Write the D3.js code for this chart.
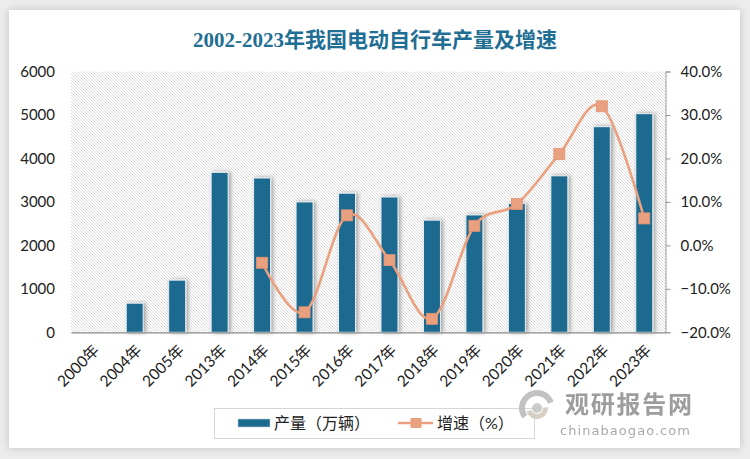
<!DOCTYPE html>
<html>
<head>
<meta charset="utf-8">
<script src="https://cdn.jsdelivr.net/npm/d3@7/dist/d3.min.js"></script>
<style>
html,body{margin:0;padding:0;background:#ececec;}
#wrap{position:relative;width:750px;height:459px;overflow:hidden;background:#ececec;}
#card{position:absolute;left:9px;top:10px;width:731px;height:438px;background:#fff;box-shadow:0 0 8px rgba(0,0,0,0.18);}
svg{position:absolute;left:0;top:0;}
</style>
</head>
<body>
<div id="wrap"><div id="card"></div></div>
<script>
const categories = ["2000年","2004年","2005年","2013年","2014年","2015年","2016年","2017年","2018年","2019年","2020年","2021年","2022年","2023年"];
const production = [null,670,1200,3680,3550,3000,3200,3113,2580,2700,2960,3600,4730,5030];
const growth = [null,null,null,null,-4.0,-15.4,6.9,-3.4,-16.9,4.5,9.5,21.0,32.0,6.2];
const leftTicks = [0,1000,2000,3000,4000,5000,6000];
const rightTicks = [-20,-10,0,10,20,30,40];
const titleText = "2002-2023年我国电动自行车产量及增速";
const legendLabels = ["产量（万辆）","增速（%）"];

const W = 750, H = 459;
const m = {left:71, right:665.5, top:71.5, bottom:332.3};
const svg = d3.select("#wrap").append("svg").attr("width",W).attr("height",H);
const defs = svg.append("defs");
const pat = defs.append("pattern").attr("id","hatch").attr("patternUnits","userSpaceOnUse").attr("width",3).attr("height",3);
pat.append("rect").attr("width",3).attr("height",3).attr("fill","#ffffff");
pat.append("path").attr("d","M-1,-1 L4,4 M-1,2 L1,4 M2,-1 L4,1").attr("stroke","#d2d2d2").attr("stroke-width",0.8);
const f = defs.append("filter").attr("id","bshadow").attr("x","-50%").attr("y","-10%").attr("width","200%").attr("height","120%");
f.append("feDropShadow").attr("dx",2).attr("dy",0).attr("stdDeviation",2).attr("flood-color","#000").attr("flood-opacity",0.35);

const font = "Lato, 'Noto Sans CJK SC', sans-serif";

// title
svg.append("text").attr("x",375).attr("y",47).attr("text-anchor","middle")
  .attr("font-family","'Liberation Serif','Noto Sans CJK SC',serif").attr("font-weight","bold")
  .attr("font-size",21).attr("fill","#1f6e93").text(titleText);

const x = d3.scaleBand().domain(categories).range([m.left,m.right]).paddingInner(0.6).paddingOuter(0.3);
const y = d3.scaleLinear().domain([0,6000]).range([m.bottom,m.top]);
const y2 = d3.scaleLinear().domain([-20,40]).range([m.bottom,m.top]);

// plot background hatch
svg.append("rect").attr("x",m.left).attr("y",m.top).attr("width",m.right-m.left).attr("height",m.bottom-m.top).attr("fill","url(#hatch)");

// bars
const bd = categories.map((c,i)=>({c,v:production[i]})).filter(d=>d.v!=null);
svg.append("g").selectAll("rect").data(bd).join("rect")
  .attr("x",d=>x(d.c)).attr("width",x.bandwidth())
  .attr("y",d=>y(d.v)).attr("height",d=>y(0)-y(d.v))
  .attr("fill","#1c6b8f").attr("stroke","#e8eef2").attr("stroke-width",1)
  .attr("filter","url(#bshadow)");

// x axis baseline
const xa = svg.append("g").attr("transform",`translate(0,${m.bottom})`).call(d3.axisBottom(x).tickSize(0).tickPadding(0));
xa.select(".domain").attr("stroke","#888").attr("stroke-width",1.3);
xa.selectAll("text").attr("font-family",font).attr("font-size",15.5).attr("fill","#222")
  .attr("text-anchor","end").attr("dy",0).attr("transform","translate(8,19) rotate(-45)");

// left axis
const la = svg.append("g").attr("transform",`translate(${m.left},0)`).call(d3.axisLeft(y).tickValues(leftTicks).tickSize(0).tickPadding(16).tickFormat(d3.format("d")));
la.select(".domain").remove();
la.selectAll("text").attr("font-family",font).attr("font-size",15).attr("fill","#222");

// right axis
const ra = svg.append("g").attr("transform",`translate(${m.right},0)`).call(d3.axisRight(y2).tickValues(rightTicks).tickSize(5).tickPadding(10).tickFormat(d=>d3.format(".1f")(d)+"%"));
ra.select(".domain").attr("stroke","#999").attr("stroke-width",1);
ra.selectAll("line").attr("stroke","#999");
ra.selectAll("text").attr("font-family",font).attr("font-size",15).attr("fill","#222");

// growth line
const ld = categories.map((c,i)=>({c,v:growth[i]})).filter(d=>d.v!=null);
const cx = d=>x(d.c)+x.bandwidth()/2;
const line = d3.line().x(cx).y(d=>y2(d.v)).curve(d3.curveCardinal.tension(0));
svg.append("path").datum(ld).attr("d",line).attr("fill","none").attr("stroke","#eba07f").attr("stroke-width",2.6);
svg.append("g").selectAll("rect").data(ld).join("rect")
  .attr("x",d=>cx(d)-5.5).attr("y",d=>y2(d.v)-5.5).attr("width",11).attr("height",11)
  .attr("fill","#e9a07e").attr("stroke","#e69373").attr("stroke-width",0.8);

// legend
const lg = svg.append("g");
lg.append("rect").attr("x",214.5).attr("y",408.5).attr("width",320).attr("height",30).attr("fill","#fff").attr("stroke","#d6d6d6");
lg.append("rect").attr("x",238).attr("y",419).attr("width",32).attr("height",8).attr("fill","#1c6b8f").attr("stroke","#bfcfd8").attr("stroke-width",0.6);
lg.append("text").attr("x",274).attr("y",429).attr("font-family",font).attr("font-size",16).attr("fill","#222").text(legendLabels[0]);
lg.append("line").attr("x1",398).attr("x2",433).attr("y1",423).attr("y2",423).attr("stroke","#eba07f").attr("stroke-width",2.6);
lg.append("rect").attr("x",410.5).attr("y",418).attr("width",11).attr("height",10).attr("fill","#e9a07e");
lg.append("text").attr("x",437).attr("y",429).attr("font-family",font).attr("font-size",16).attr("fill","#222").text(legendLabels[1]);

// watermark
const wm = svg.append("g").attr("opacity",0.85);
const arc = d3.arc();
wm.append("path").attr("transform","translate(537,408)").attr("d",arc({innerRadius:12,outerRadius:18,startAngle:-2.2,endAngle:1.2})).attr("fill","#b8b8b8");
wm.append("path").attr("transform","translate(537,408)").attr("d",arc({innerRadius:6,outerRadius:11,startAngle:1.5,endAngle:4.4})).attr("fill","#cfc8bb");
wm.append("path").attr("transform","translate(537,408)").attr("d",arc({innerRadius:0,outerRadius:5,startAngle:0,endAngle:6.28})).attr("fill","#c4c4c4");
wm.append("text").attr("x",565).attr("y",413).attr("font-family","'Noto Sans CJK SC',sans-serif").attr("font-weight","bold").attr("font-size",24).attr("fill","#8c8c8c").attr("textLength",127).text("观研报告网");
wm.append("text").attr("x",560).attr("y",435).attr("font-family","'DejaVu Sans',sans-serif").attr("font-size",13).attr("fill","#9a9a9a").attr("textLength",130).text("chinabaogao.com");
</script>
</body>
</html>
